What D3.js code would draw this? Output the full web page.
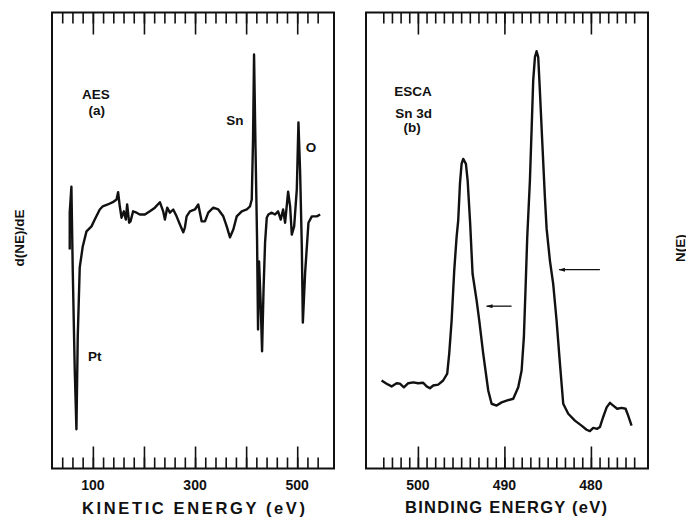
<!DOCTYPE html>
<html>
<head>
<meta charset="utf-8">
<script src="https://cdn.jsdelivr.net/npm/d3@7"></script>
<style>
  body { margin: 0; background: #fff; }
  text { font-family: "Liberation Sans", Arial, sans-serif; font-weight: bold; fill: #111; }
</style>
</head>
<body>
<div id="chart"></div>
<script>
// AES derivative spectrum (kinetic energy, eV / arbitrary d(NE)/dE units)
const aesEnergy = [54.7, 54.7, 58.0, 60.6, 64.5, 67.8, 70.4, 74.3, 80.2, 87.5, 97.3, 103.7, 113.5, 119.4, 129.2,
  139.0, 146.3, 149.4, 152.7, 156.1, 160.6, 164.5, 167.1, 171.0, 173.7, 178.8, 185.5, 192.0, 201.8, 211.6,
  221.4, 231.2, 237.6, 241.0, 245.5, 250.8, 257.3, 263.9, 270.4, 276.9, 280.2, 283.5, 290.0, 299.8, 306.3,
  309.6, 312.9, 319.4, 325.9, 335.7, 345.5, 355.3, 362.0, 368.4, 374.9, 381.6, 391.4, 401.2, 407.6, 411.0,
  413.5, 415.5, 418.4, 421.4, 423.3, 425.3, 428.2, 431.2, 434.1, 437.1, 440.4, 443.5, 450.2, 456.7, 462.5,
  467.8, 472.4, 476.3, 482.2, 486.1, 489.4, 494.0, 499.2, 502.4, 505.7, 509.0, 511.0, 515.5, 522.0, 528.6,
  538.4, 544.9];
const aesSignal = [-9.0, -0.9, 4.8, -13.4, -35.3, -48.4, -28.1, -12.9, -8.3, -5.0, -3.9, -2.4, -0.2, 0.5, 0.9,
  1.4, 2.0, 3.6, 0.5, -2.0, -0.6, -2.4, 0.9, -3.1, -2.8, -0.6, -0.9, -1.3, -1.3, -0.6,
  0.2, 1.4, -0.6, -2.4, 0.2, -0.9, -0.2, -1.7, -3.5, -5.2, -4.1, -1.7, -0.6, -0.2, 0.9,
  -0.9, -2.8, -2.8, -0.9, 0.2, -0.2, -1.7, -3.9, -6.3, -4.6, -1.7, -0.6, -0.2, 0.5, 2.0,
  15.1, 33.8, 13.0, -6.8, -26.5, -11.6, -19.9, -31.3, -17.7, -7.4, -2.0, -1.3, -0.9, -1.3, -0.6,
  -2.4, -0.2, -3.1, 3.7, 0.5, -5.7, -3.9, 4.2, 18.9, 7.9, -8.3, -25.0, -14.0, -3.1, -1.7,
  -1.7, -1.3];

// ESCA Sn 3d spectrum (binding energy, eV / arbitrary N(E) units)
const escaEnergy = [504.20, 503.62, 503.04, 502.46, 502.08, 501.62, 501.12, 500.54, 499.97, 499.39,
  498.99, 498.61, 498.23, 497.65, 497.08, 496.61, 496.38, 496.10, 495.80, 495.53,
  495.34, 495.14, 494.95, 494.76, 494.45, 494.25, 493.96, 493.68, 493.21, 492.91,
  492.45, 491.87, 491.48, 490.90, 490.32, 489.75, 488.98, 488.40, 488.01, 487.75,
  487.55, 487.36, 487.05, 486.86, 486.67, 486.47, 486.28, 486.09, 485.90, 485.63,
  485.32, 485.12, 484.74, 484.36, 483.97, 483.58, 483.20, 482.62, 481.85, 481.08,
  480.50, 480.12, 479.73, 479.27, 478.96, 478.58, 478.18, 477.80, 477.42, 476.96,
  476.45, 475.99, 475.69, 475.30];
const escaSignal = [19.3, 18.6, 18.0, 18.7, 18.6, 17.8, 18.7, 18.9, 18.7, 18.8,
  18.0, 17.6, 18.2, 18.4, 19.3, 20.8, 25.2, 32.5, 43.4, 50.7,
  54.4, 62.4, 66.8, 67.9, 66.8, 63.2, 53.8, 42.7, 36.8, 32.5,
  25.2, 17.1, 14.2, 13.8, 14.5, 14.9, 15.3, 17.8, 21.5, 28.8,
  39.8, 50.7, 63.2, 74.1, 85.1, 90.2, 91.5, 90.2, 82.9, 71.9,
  59.5, 52.6, 45.6, 40.5, 32.5, 23.0, 14.2, 12.0, 10.5, 9.4,
  8.5, 8.2, 8.9, 8.7, 9.1, 11.3, 13.4, 14.4, 13.8, 13.1,
  13.3, 13.1, 11.6, 9.4];

// tick values
const kineticMajor = [100, 200, 300, 400, 500];
const kineticLabels = [100, 300, 500];
const bindingMajor = [500, 490, 480];

// annotations: [label, energy, signal]
const aesNotes = [["AES", 105.7, 24.0], ["(a)", 107.6, 20.6], ["Sn", 378, 18.4], ["O", 527, 12.4], ["Pt", 103.7, -33.5]];
const escaNotes = [["ESCA", 500.58, 81.6], ["Sn 3d", 500.5, 76.9], ["(b)", 500.66, 73.9]];
// arrows: [from energy, to energy, signal]
const escaArrows = [[489.17, 492.06, 35.6], [478.96, 483.67, 43.6]];

const plotTop = 12.5, plotBottom = 468.5;

const svg = d3.select("#chart")
  .append("svg")
  .attr("width", 686)
  .attr("height", 524);

svg.append("defs").append("marker")
  .attr("id", "head")
  .attr("viewBox", "0 0 10 6")
  .attr("refX", 9)
  .attr("refY", 3)
  .attr("markerWidth", 7)
  .attr("markerHeight", 4)
  .attr("markerUnits", "userSpaceOnUse")
  .attr("orient", "auto")
  .append("path")
  .attr("d", "M0,0L10,3L0,6Z")
  .attr("fill", "#111");

// Scales
const xA = d3.scaleLinear().domain([20, 572]).range([52, 334]);
const yA = d3.scaleLinear().domain([-57, 43]).range([plotBottom, plotTop]);
const xB = d3.scaleLinear().domain([506, 473.4]).range([366, 648]);
const yB = d3.scaleLinear().domain([0, 100]).range([plotBottom, plotTop]);

function frame(x, minor, major) {
  const g = svg.append("g");
  g.append("rect")
    .attr("x", x.range()[0])
    .attr("y", plotTop)
    .attr("width", x.range()[1] - x.range()[0])
    .attr("height", plotBottom - plotTop)
    .attr("fill", "none")
    .attr("stroke", "#111")
    .attr("stroke-width", 2);

  [[minor, 11], [major, 22]].forEach(([vals, len]) => {
    g.append("g")
      .attr("transform", `translate(0,${plotTop})`)
      .call(d3.axisTop(x).tickValues(vals).tickSize(-len).tickFormat(""));
    g.append("g")
      .attr("transform", `translate(0,${plotBottom})`)
      .call(d3.axisBottom(x).tickValues(vals).tickSize(-len).tickFormat(""));
  });
  g.selectAll(".domain").remove();
  g.selectAll(".tick line").attr("stroke", "#111").attr("stroke-width", 1.6);
}

frame(xA, d3.range(40, 541, 20), kineticMajor);
frame(xB, d3.range(475, 505, 1), bindingMajor);

// Tick labels
svg.selectAll(".klab")
  .data(kineticLabels)
  .enter().append("text")
  .attr("x", d => xA(d))
  .attr("y", 490)
  .attr("text-anchor", "middle")
  .style("font-size", "14px")
  .text(d => d);

svg.selectAll(".blab")
  .data(bindingMajor)
  .enter().append("text")
  .attr("x", d => xB(d))
  .attr("y", 490)
  .attr("text-anchor", "middle")
  .style("font-size", "14px")
  .text(d => d);

// Axis titles
svg.append("text")
  .attr("x", 82).attr("y", 514)
  .attr("textLength", 223).attr("lengthAdjust", "spacing")
  .style("font-size", "16.5px")
  .text("KINETIC ENERGY (eV)");

svg.append("text")
  .attr("x", 405).attr("y", 512.5)
  .attr("textLength", 202).attr("lengthAdjust", "spacing")
  .style("font-size", "16.5px")
  .text("BINDING ENERGY (eV)");

svg.append("text")
  .attr("transform", "translate(23.5,238) rotate(-90)")
  .attr("text-anchor", "middle")
  .style("font-size", "13.5px")
  .text("d(NE)/dE");

svg.append("text")
  .attr("transform", "translate(684.5,248) rotate(-90)")
  .attr("text-anchor", "middle")
  .style("font-size", "13.5px")
  .text("N(E)");

// Spectra
const lineA = d3.line().x((d, i) => xA(aesEnergy[i])).y(d => yA(d));
const lineB = d3.line().x((d, i) => xB(escaEnergy[i])).y(d => yB(d));

svg.append("path")
  .datum(aesSignal)
  .attr("d", lineA)
  .attr("fill", "none")
  .attr("stroke", "#111")
  .attr("stroke-width", 2.4)
  .attr("stroke-linejoin", "round");

svg.append("path")
  .datum(escaSignal)
  .attr("d", lineB)
  .attr("fill", "none")
  .attr("stroke", "#111")
  .attr("stroke-width", 2.4)
  .attr("stroke-linejoin", "round");

// Annotations
svg.selectAll(".anA")
  .data(aesNotes)
  .enter().append("text")
  .attr("x", d => xA(d[1]))
  .attr("y", d => yA(d[2]))
  .attr("text-anchor", "middle")
  .style("font-size", "13.5px")
  .text(d => d[0]);

svg.selectAll(".anB")
  .data(escaNotes)
  .enter().append("text")
  .attr("x", d => xB(d[1]))
  .attr("y", d => yB(d[2]))
  .attr("text-anchor", "middle")
  .style("font-size", "13.5px")
  .text(d => d[0]);

svg.selectAll(".arrow")
  .data(escaArrows)
  .enter().append("line")
  .attr("x1", d => xB(d[0]))
  .attr("x2", d => xB(d[1]))
  .attr("y1", d => yB(d[2]))
  .attr("y2", d => yB(d[2]))
  .attr("stroke", "#111")
  .attr("stroke-width", 1.3)
  .attr("marker-end", "url(#head)");
</script>
</body>
</html>
